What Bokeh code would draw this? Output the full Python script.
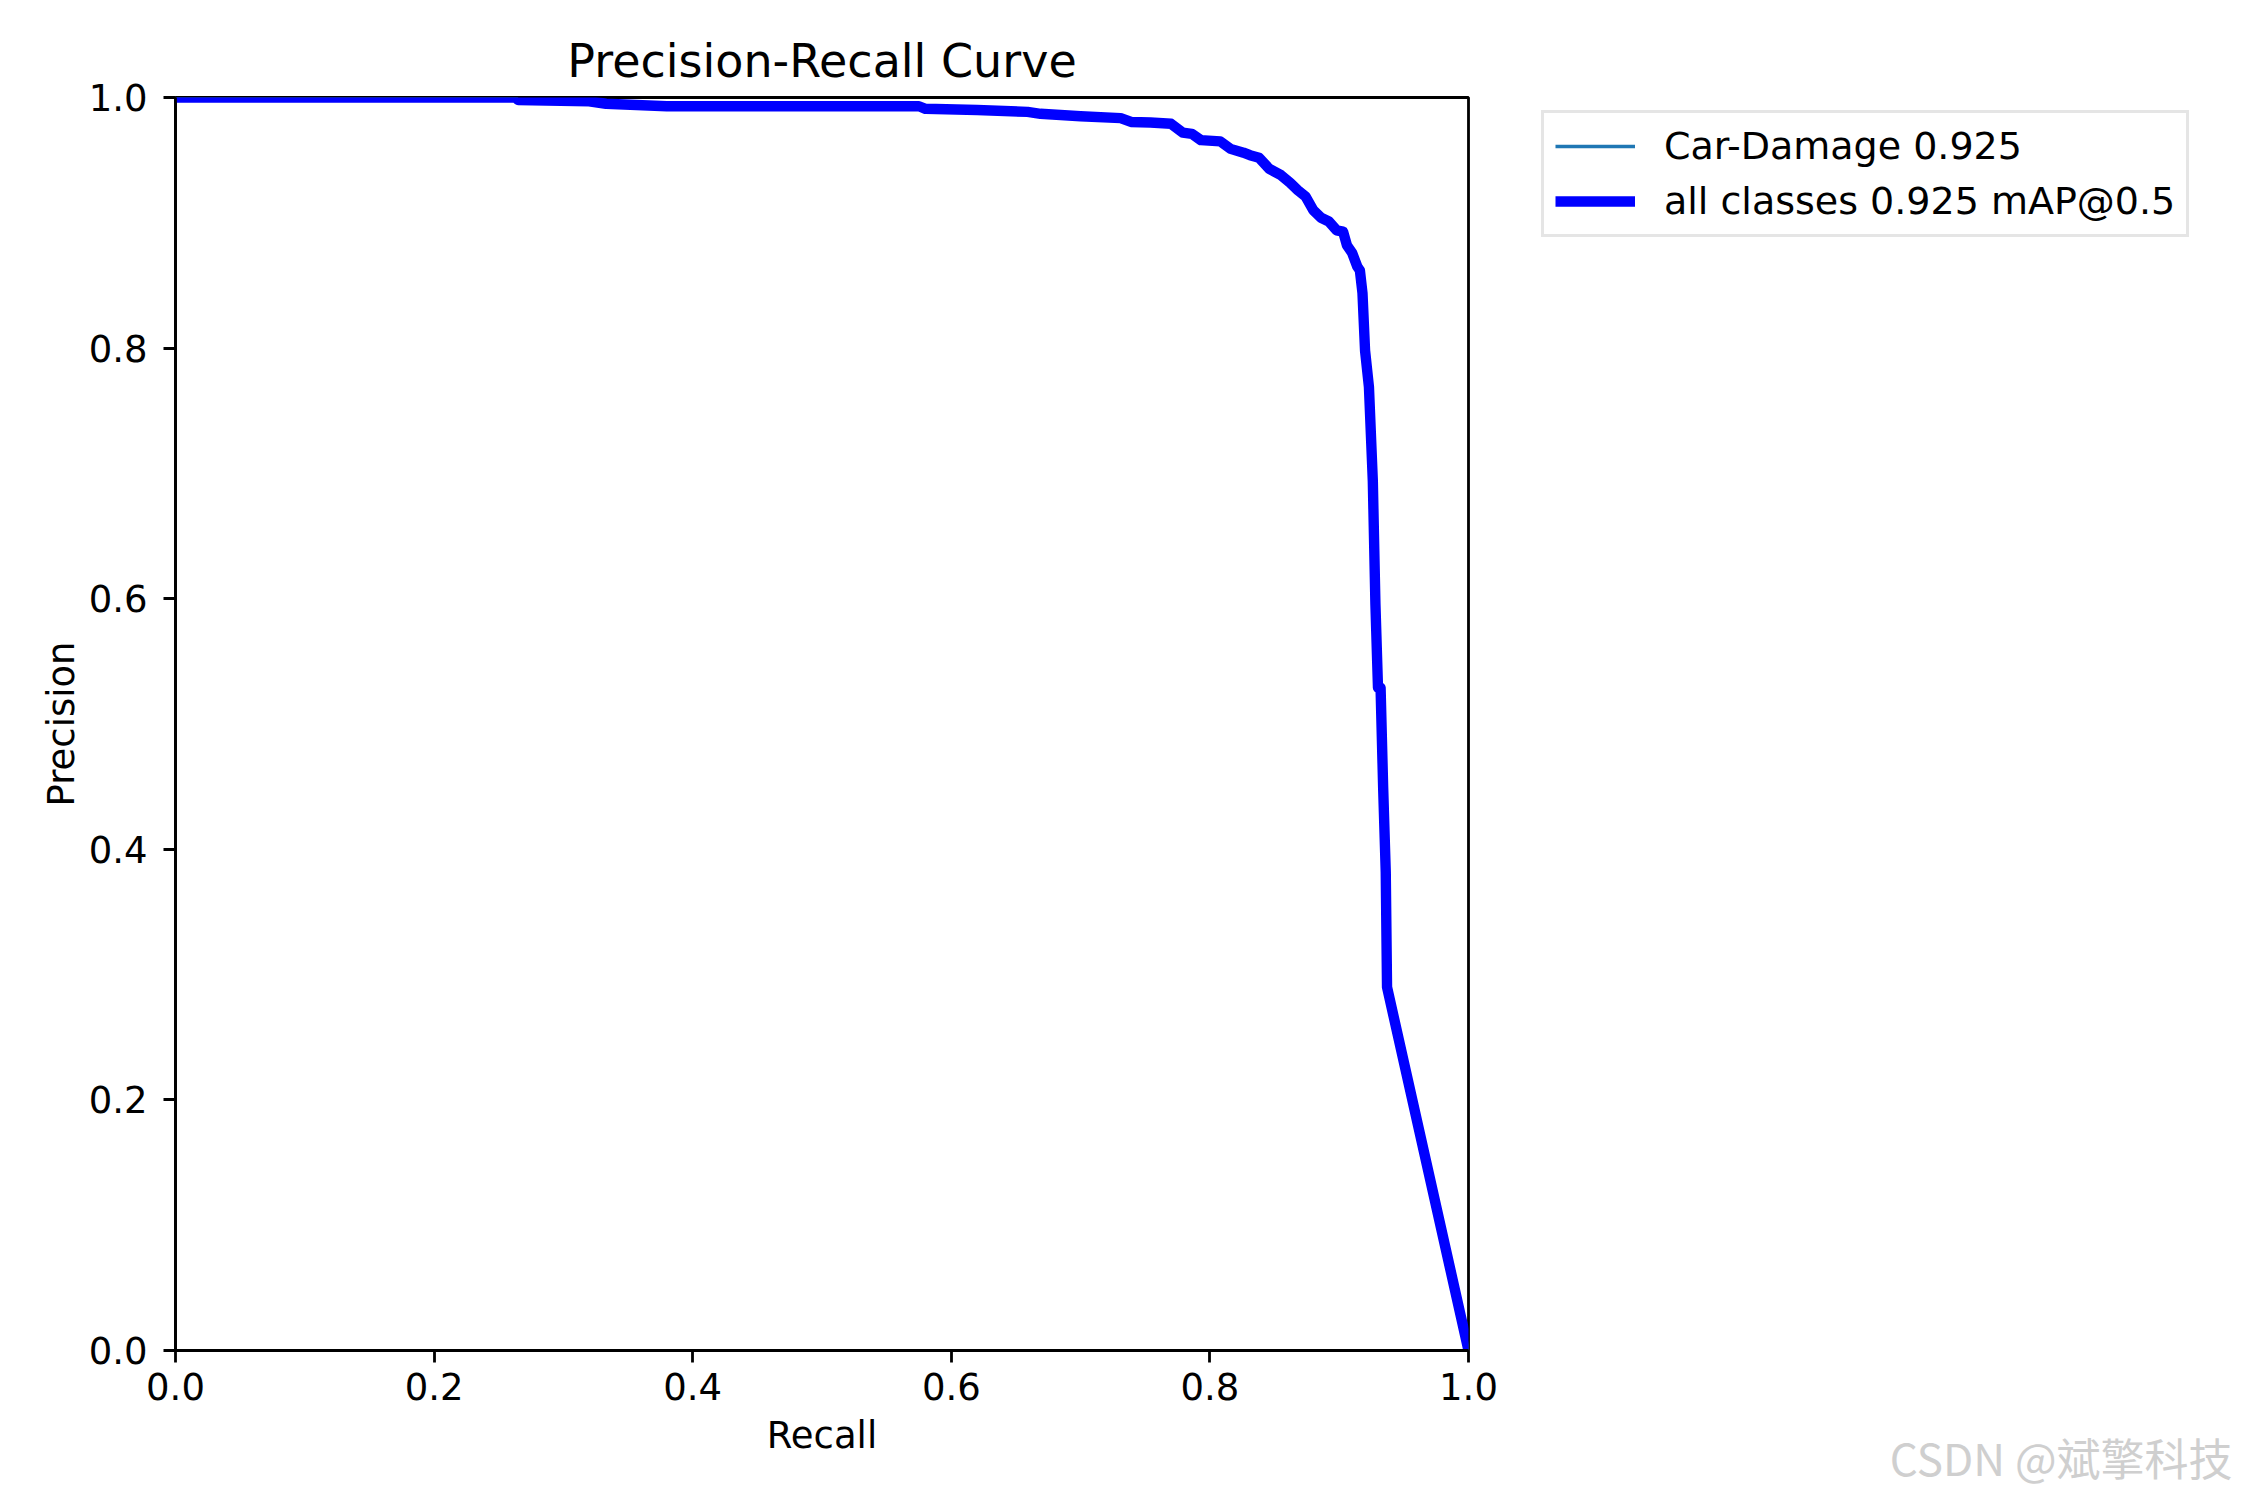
from bokeh.plotting import figure
from bokeh.models import Range1d, FixedTicker, Title
from bokeh.layouts import row
from bokeh.embed import file_html
from bokeh.resources import INLINE

# ---- data ----
recall = [0.0, 0.263, 0.265, 0.32, 0.333, 0.38, 0.575, 0.580, 0.620, 0.659,
          0.669, 0.700, 0.731, 0.739, 0.754, 0.770, 0.779, 0.786, 0.793, 0.808,
          0.816, 0.826, 0.831, 0.838, 0.846, 0.855, 0.862, 0.868, 0.874, 0.880,
          0.886, 0.892, 0.898, 0.903, 0.906, 0.910, 0.914, 0.916, 0.918, 0.920,
          0.923, 0.926, 0.928, 0.930, 0.932, 0.934, 0.936, 0.937, 1.0]
precision = [1.0, 1.0, 0.998, 0.997, 0.995, 0.993, 0.993, 0.991, 0.990, 0.9885,
             0.987, 0.985, 0.9835, 0.9805, 0.980, 0.979, 0.972, 0.971, 0.966,
             0.965, 0.959, 0.956, 0.954, 0.952, 0.943, 0.938, 0.932, 0.926,
             0.921, 0.910, 0.904, 0.901, 0.894, 0.893, 0.882, 0.876, 0.865,
             0.862, 0.844, 0.798, 0.769, 0.694, 0.596, 0.529, 0.529, 0.449,
             0.382, 0.290, 0.0]
class_name = "Car-Damage"
class_ap = 0.925
map50 = 0.925
ticks = [0.0, 0.2, 0.4, 0.6, 0.8, 1.0]
tick_labels = ["0.0", "0.2", "0.4", "0.6", "0.8", "1.0"]
title_text = "Precision-Recall Curve"
x_label = "Recall"
y_label = "Precision"
watermark = "CSDN @斌擎科技"

FONT = "DejaVu Sans"
TOTAL_W, TOTAL_H = 2234, 1484
MAIN_W = 1508


def style_axis(ax, visible=True):
    ax.ticker = FixedTicker(ticks=ticks)
    ax.major_label_overrides = {t: l for t, l in zip(ticks, tick_labels)}
    ax.major_label_text_font = FONT
    ax.major_label_text_font_size = "37px"
    ax.axis_label_text_font = FONT
    ax.axis_label_text_font_size = "37px"
    ax.axis_label_text_font_style = "normal"
    ax.axis_line_width = 2.8
    ax.major_tick_line_width = 2.8
    ax.major_tick_out = 12
    ax.major_tick_in = 0
    ax.minor_tick_line_color = None
    col = "black" if visible else None
    ax.major_label_text_color = col
    ax.axis_label_text_color = col
    ax.axis_line_color = col
    ax.major_tick_line_color = col


# ---- main chart ----
p = figure(width=MAIN_W, height=TOTAL_H, output_backend="svg", toolbar_location=None,
           x_range=Range1d(0, 1), y_range=Range1d(0, 1),
           min_border_left=175, min_border_right=40,
           min_border_top=97, min_border_bottom=134,
           background_fill_color="white", border_fill_color="white")

p.title.text = title_text
p.title.align = "center"
p.title.text_font = FONT
p.title.text_font_size = "46px"
p.title.text_font_style = "normal"
p.title.text_color = "black"
p.title.standoff = 20

p.grid.visible = False
p.outline_line_color = "black"
p.outline_line_width = 2.8

style_axis(p.xaxis[0])
style_axis(p.yaxis[0])
p.xaxis[0].major_label_standoff = 10
p.xaxis[0].axis_label_standoff = 11
p.yaxis[0].major_label_standoff = 16
p.yaxis[0].axis_label_standoff = 3
p.xaxis[0].axis_label = x_label
p.yaxis[0].axis_label = y_label

p.line(recall, precision, line_color="#1f77b4", line_width=3.5, line_join="round")
p.line(recall, precision, line_color="blue", line_width=10.4, line_join="round")

# ---- side panel: legend + watermark ----
# same series drawn again as legend sources; the side y range keeps them out of view
side = figure(width=TOTAL_W - MAIN_W, height=TOTAL_H, output_backend="svg",
              toolbar_location=None, x_axis_location="below", y_axis_location=None,
              x_range=Range1d(0, 1), y_range=Range1d(2, 3),
              min_border=0, outline_line_color=None,
              background_fill_color="white", border_fill_color="white")
side.grid.visible = False
# a transparent x axis gives the bottom stack a fixed height for the watermark
style_axis(side.xaxis[0], visible=False)
side.xaxis[0].major_label_standoff = 10
side.xaxis[0].axis_label_standoff = 54
side.xaxis[0].axis_label = x_label

side.line(recall, precision, line_color="#1f77b4", line_width=3.5,
          legend_label=f"{class_name} {class_ap:.3f}")
side.line(recall, precision, line_color="blue", line_width=10.4,
          legend_label=f"all classes {map50:.3f} mAP@0.5")

lg = side.legend[0]
lg.location = (33, 1113)
lg.label_text_font = FONT
lg.label_text_font_size = "38px"
lg.label_text_color = "black"
lg.glyph_width = 80
lg.glyph_height = 40
lg.label_height = 40
lg.label_standoff = 29
lg.spacing = 11
lg.padding = 11
lg.margin = 0
lg.border_line_color = "#cccccc"
lg.border_line_width = 3
lg.background_fill_color = "white"
lg.background_fill_alpha = 0.8

wm = Title(text=watermark, align="right", vertical_align="top",
           offset=2, standoff=-75,
           text_font="Noto Sans CJK SC", text_font_size="44px",
           text_font_style="normal", text_color="#cfcfcf")
side.add_layout(wm, "below")

open("out.html", "w").write(file_html(row(p, side), INLINE))
